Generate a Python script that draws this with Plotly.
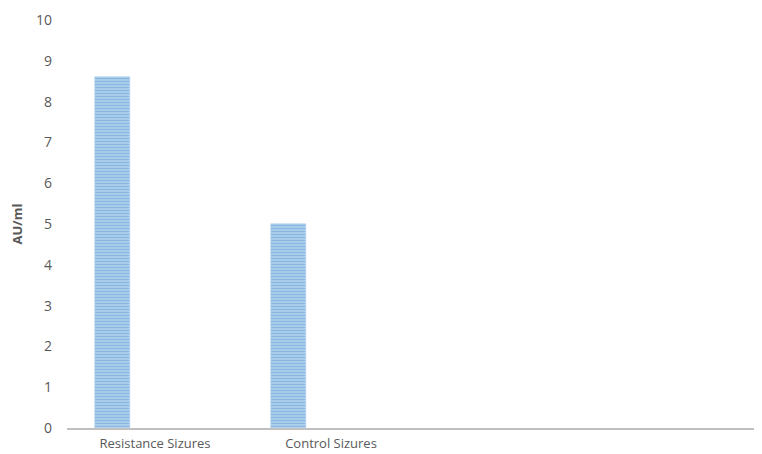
import plotly.graph_objects as go

categories = ["Resistance Sizures", "Control Sizures"]
values = [8.6, 5.0]
y_ticks = [0, 1, 2, 3, 4, 5, 6, 7, 8, 9, 10]

x_pos = list(range(len(categories)))

fig = go.Figure()
fig.add_trace(go.Bar(
    x=x_pos,
    y=values,
    width=0.2,
    offset=-0.34,
    marker=dict(
        color="#9dc3e6",
        line=dict(color="#a9cbea", width=0.5),
        pattern=dict(shape="-", fgcolor="#5b9bd5", bgcolor="#b4d2ee", size=3, solidity=0.5),
    ),
    showlegend=False,
    hoverinfo="skip",
))

# page body has an 8px margin: size the figure to fit the 762x454 window
fig.update_layout(
    width=754, height=446,
    margin=dict(l=59, r=0, t=12, b=26),
    paper_bgcolor="white", plot_bgcolor="white",
    font=dict(family="Open Sans, Liberation Sans, sans-serif", size=13, color="#595959"),
    bargap=0,
)
fig.update_xaxes(
    range=[-0.5, 3.449],
    tickmode="array",
    tickvals=x_pos,
    ticktext=categories,
    showgrid=False, zeroline=False,
    showline=True, linecolor="#c0c0c0", linewidth=2,
    ticks="", ticklabelstandoff=2,
    automargin=False,
    tickfont=dict(size=13, color="#595959"),
)
fig.update_yaxes(
    range=[0, 10],
    tickmode="array",
    tickvals=y_ticks,
    showgrid=False, zeroline=False, showline=False,
    ticks="", ticklabelstandoff=14,
    automargin=False,
    tickfont=dict(size=14, color="#595959"),
    title=dict(text="<b>AU/ml</b>", font=dict(size=13, color="#595959"), standoff=10),
)

fig.write_html("out.html")
